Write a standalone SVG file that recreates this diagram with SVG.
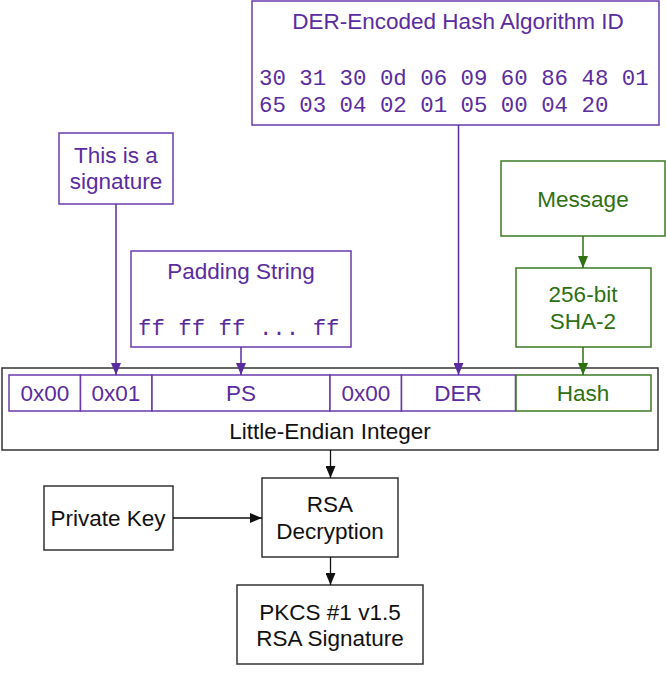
<svg xmlns="http://www.w3.org/2000/svg" width="666" height="700" viewBox="0 0 666 700">
<style>
text{font-family:"Liberation Sans",Arial,sans-serif;font-size:22.5px;text-anchor:middle}
.mono{font-family:"Liberation Mono","Courier New",monospace;font-size:22.4px;text-anchor:start}
.p{fill:#5a2ca0}
.g{fill:#2e7012}
.k{fill:#111}
.pb{fill:#fff;stroke:#6a3aac;stroke-width:1.5}
.gb{fill:#fff;stroke:#3d7a22;stroke-width:1.5}
.kb{fill:#fff;stroke:#333;stroke-width:1.5}
.pl{stroke:#5a2ca0;stroke-width:1.5;fill:none}
.gl{stroke:#2e7012;stroke-width:1.5;fill:none}
.kl{stroke:#111;stroke-width:1.3;fill:none}
</style>
<defs>
<marker id="ap" viewBox="0 0 12 10" refX="12" refY="5" markerWidth="12" markerHeight="10" markerUnits="userSpaceOnUse" orient="auto"><path d="M0,0L12,5L0,10z" fill="#5a2ca0"/></marker>
<marker id="ag" viewBox="0 0 12 10" refX="12" refY="5" markerWidth="12" markerHeight="10" markerUnits="userSpaceOnUse" orient="auto"><path d="M0,0L12,5L0,10z" fill="#2e7012"/></marker>
<marker id="ak" viewBox="0 0 12 10" refX="12" refY="5" markerWidth="12" markerHeight="10" markerUnits="userSpaceOnUse" orient="auto"><path d="M0,0L12,5L0,10z" fill="#111"/></marker>
</defs>
<rect width="666" height="700" fill="#fff"/>

<g id="der-id">
<rect class="pb" x="252" y="1" width="407" height="124"/>
<text class="p" x="458" y="29">DER-Encoded Hash Algorithm ID</text>
<text class="p mono" x="259" y="85">30 31 30 0d 06 09 60 86 48 01</text>
<text class="p mono" x="259" y="112">65 03 04 02 01 05 00 04 20</text>
</g>

<g id="sig-note">
<rect class="pb" x="59" y="133" width="114" height="71"/>
<text class="p" x="116" y="163">This is a</text>
<text class="p" x="116" y="189">signature</text>
</g>

<g id="padding">
<rect class="pb" x="131" y="251" width="220" height="96"/>
<text class="p" x="241" y="279">Padding String</text>
<text class="p mono" x="138" y="335">ff ff ff ... ff</text>
</g>

<g id="message">
<rect class="gb" x="501" y="161" width="164" height="75"/>
<text class="g" x="583" y="207">Message</text>
</g>

<g id="sha">
<rect class="gb" x="516" y="268" width="135" height="79"/>
<text class="g" x="583" y="302">256-bit</text>
<text class="g" x="583" y="329">SHA-2</text>
</g>

<g id="integer">
<rect class="kb" x="2" y="368" width="656" height="82"/>
<text class="k" x="330" y="439">Little-Endian Integer</text>
</g>

<g id="cells">
<rect class="pb" x="9" y="375" width="71.5" height="36"/>
<text class="p" x="45" y="401">0x00</text>
<rect class="pb" x="80.5" y="375" width="71.5" height="36"/>
<text class="p" x="116" y="401">0x01</text>
<rect class="pb" x="152" y="375" width="178" height="36"/>
<text class="p" x="241" y="401">PS</text>
<rect class="pb" x="330" y="375" width="71.5" height="36"/>
<text class="p" x="366" y="401">0x00</text>
<rect class="pb" x="401.5" y="375" width="114" height="36"/>
<text class="p" x="458" y="401">DER</text>
<rect class="gb" x="516" y="375" width="135" height="36"/>
<text class="g" x="583" y="401">Hash</text>
</g>

<g id="private-key">
<rect class="kb" x="44" y="486" width="129" height="64"/>
<text class="k" x="108" y="526">Private Key</text>
</g>

<g id="rsa">
<rect class="kb" x="262" y="478" width="136" height="79"/>
<text class="k" x="330" y="512">RSA</text>
<text class="k" x="330" y="539">Decryption</text>
</g>

<g id="pkcs">
<rect class="kb" x="237" y="585" width="186" height="79"/>
<text class="k" x="330" y="620">PKCS #1 v1.5</text>
<text class="k" x="330" y="646">RSA Signature</text>
</g>

<g id="connectors">
<line class="pl" x1="116" y1="204" x2="116" y2="375" marker-end="url(#ap)"/>
<line class="pl" x1="241" y1="347" x2="241" y2="375" marker-end="url(#ap)"/>
<line class="pl" x1="458.5" y1="125" x2="458.5" y2="375" marker-end="url(#ap)"/>
<line class="gl" x1="583" y1="236" x2="583" y2="268" marker-end="url(#ag)"/>
<line class="gl" x1="583" y1="347" x2="583" y2="375" marker-end="url(#ag)"/>
<line class="kl" x1="330.5" y1="450" x2="330.5" y2="478" marker-end="url(#ak)"/>
<line class="kl" x1="173" y1="518" x2="262" y2="518" marker-end="url(#ak)"/>
<line class="kl" x1="330.5" y1="557" x2="330.5" y2="585" marker-end="url(#ak)"/>
</g>
</svg>
